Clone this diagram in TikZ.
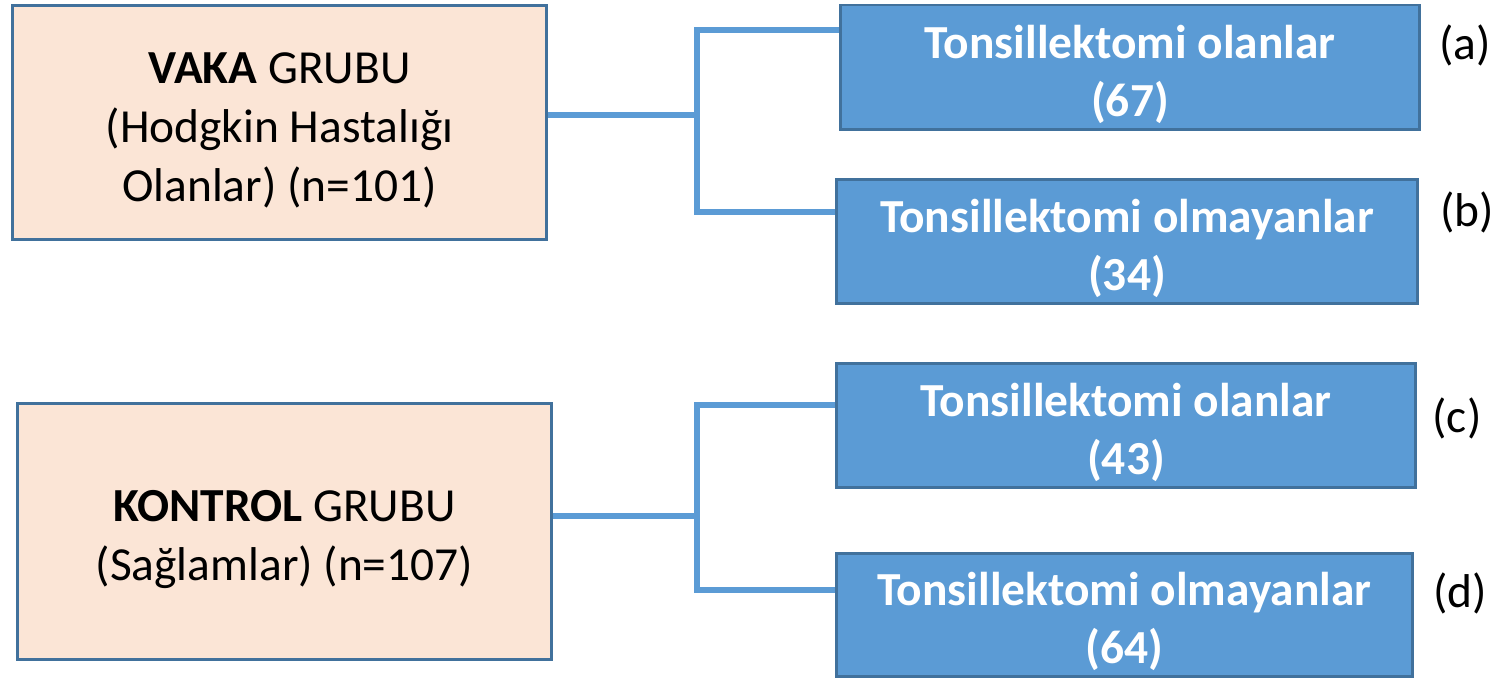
\documentclass[tikz,border=0pt]{standalone}
\usepackage{fontspec}
\setmainfont{Carlito}
\usetikzlibrary{positioning}

\definecolor{peach}{HTML}{FBE5D6}
\definecolor{boxblue}{HTML}{5B9BD5}
\definecolor{edgeblue}{HTML}{41719C}
\newcommand{\lift}{\rule{0pt}{0.98em}}

\begin{document}
\begin{tikzpicture}[
  x=0.02cm, y=-0.02cm,
  group/.style={rectangle, draw=edgeblue, line width=1.7pt, fill=peach,
                minimum width=10.7cm, align=center,
                font=\fontsize{27}{33.5}\selectfont},
  sub/.style={rectangle, draw=edgeblue, line width=1.7pt, fill=boxblue,
              minimum width=11.6cm, minimum height=2.5cm, align=center,
              text=white, font=\fontsize{27}{33}\selectfont\bfseries},
  tag/.style={font=\fontsize{27}{32.5}\selectfont},
  link/.style={draw=boxblue, line width=3.6pt},
]
\useasboundingbox (0,0) rectangle (1498,678);

% ---- gruplar ----
\node[group, minimum height=4.7cm] (vaka) at (279.5,122.5)
      {\lift\textbf{VAKA} GRUBU\\(Hodgkin Hastalığı\\Olanlar) (n=101)};
\node[group, minimum height=5.14cm] (kontrol) at (284.5,531.5)
      {\lift\textbf{KONTROL} GRUBU\\(Sağlamlar) (n=107)};

% ---- alt gruplar ----
\node[sub] (sub-a) at (1130,67.5)  {\lift Tonsillektomi olanlar\\(67)};
\node[sub, minimum width=11.64cm, minimum height=2.46cm] (sub-b) at (1127,241.5)
      {\lift Tonsillektomi olmayanlar\\(34)};
\node[sub] (sub-c) at (1126,425.5) {\lift Tonsillektomi olanlar\\(43)};
\node[sub, minimum width=11.54cm, minimum height=2.48cm] (sub-d) at (1124.5,615)
      {\lift Tonsillektomi olmayanlar\\(64)};

\node[tag] (tag-a) at (1465,45)  {(a)};
\node[tag] (tag-b) at (1467,212) {(b)};
\node[tag] (tag-c) at (1457,418) {(c)};
\node[tag] (tag-d) at (1460,593) {(d)};

% ---- baglantilar ----
\coordinate (vaka-j) at (697,115);
\coordinate (vaka-t) at (697,30);
\coordinate (vaka-b) at (697,212);
\coordinate (kont-j) at (697,516);
\coordinate (kont-t) at (697,405);
\coordinate (kont-b) at (697,590);

\draw[link] (vaka.east |- vaka-j) -- (vaka-j);
\draw[link] (sub-a.west |- vaka-t) -- (vaka-t) -- (vaka-b) -- (sub-b.west |- vaka-b);
\draw[link] (kontrol.east |- kont-j) -- (kont-j);
\draw[link] (sub-c.west |- kont-t) -- (kont-t) -- (kont-b) -- (sub-d.west |- kont-b);

\end{tikzpicture}
\end{document}
